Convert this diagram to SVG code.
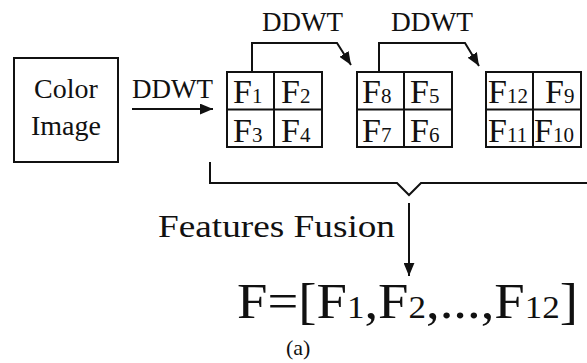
<svg xmlns="http://www.w3.org/2000/svg" width="587" height="363" viewBox="0 0 587 363">
<style>
text{font-family:'Liberation Serif','Times New Roman','DejaVu Serif',serif;fill:#111}
.box{fill:#fff;stroke:#111;stroke-width:2}
.ln{fill:none;stroke:#111;stroke-width:2}
.cell{font-size:34px}
.s{font-size:21px}
</style>
<defs>
<marker id="ah" viewBox="0 0 12 10" refX="12" refY="5" markerWidth="13" markerHeight="11" markerUnits="userSpaceOnUse" orient="auto">
<path d="M0,0 L12,5 L0,10 z" fill="#111"/>
</marker>
</defs>
<rect width="587" height="363" fill="#fff"/>
<g id="color-image">
<rect class="box" x="14" y="58" width="104" height="104"/>
<text x="66" y="98" font-size="28" text-anchor="middle">Color</text>
<text x="66" y="135" font-size="28" text-anchor="middle">Image</text>
</g>
<g id="grid1">
<rect class="box" x="227" y="72" width="95" height="75"/>
<path class="ln" d="M274,72 V147 M227,109.5 H322"/>
<text class="cell" x="233" y="103">F<tspan class="s">1</tspan></text>
<text class="cell" x="281" y="103">F<tspan class="s">2</tspan></text>
<text class="cell" x="233" y="142">F<tspan class="s">3</tspan></text>
<text class="cell" x="281" y="142">F<tspan class="s">4</tspan></text>
</g>
<g id="grid2">
<rect class="box" x="357" y="72" width="95" height="75"/>
<path class="ln" d="M404,72 V147 M357,109.5 H452"/>
<text class="cell" x="362" y="103">F<tspan class="s">8</tspan></text>
<text class="cell" x="410" y="103">F<tspan class="s">5</tspan></text>
<text class="cell" x="362" y="142">F<tspan class="s">7</tspan></text>
<text class="cell" x="410" y="142">F<tspan class="s">6</tspan></text>
</g>
<g id="grid3">
<rect class="box" x="486" y="72" width="95" height="75"/>
<path class="ln" d="M533,72 V147 M486,109.5 H581"/>
<text class="cell" x="488" y="103">F<tspan class="s">12</tspan></text>
<text class="cell" x="545" y="103">F<tspan class="s">9</tspan></text>
<text class="cell" x="488" y="142">F<tspan class="s">11</tspan></text>
<text class="cell" x="534" y="142">F<tspan class="s">10</tspan></text>
</g>
<g id="connectors">
<path class="ln" d="M132,109 H213" marker-end="url(#ah)"/>
<path class="ln" d="M252,72 V43 H337 L351,65" marker-end="url(#ah)"/>
<path class="ln" d="M379,72 V43 H465 L479,66" marker-end="url(#ah)"/>
<path class="ln" d="M210,162 V183 H397 L409,195 L421,183 H587"/>
<path class="ln" d="M409,203 V276" marker-end="url(#ah)"/>
</g>
<g id="labels">
<text x="132" y="98" font-size="27" textLength="81" lengthAdjust="spacingAndGlyphs">DDWT</text>
<text x="262" y="31" font-size="27" textLength="81" lengthAdjust="spacingAndGlyphs">DDWT</text>
<text x="391" y="31" font-size="27" textLength="82" lengthAdjust="spacingAndGlyphs">DDWT</text>
<text x="158" y="237" font-size="32" textLength="237" lengthAdjust="spacingAndGlyphs">Features Fusion</text>
</g>
<g id="result">
<text x="237" y="318" font-size="50" textLength="341" lengthAdjust="spacingAndGlyphs">F=[F<tspan font-size="32">1</tspan>,F<tspan font-size="32">2</tspan>,...,F<tspan font-size="32">12</tspan>]</text>
<text x="286" y="355" font-size="22">(a)</text>
</g>
</svg>
